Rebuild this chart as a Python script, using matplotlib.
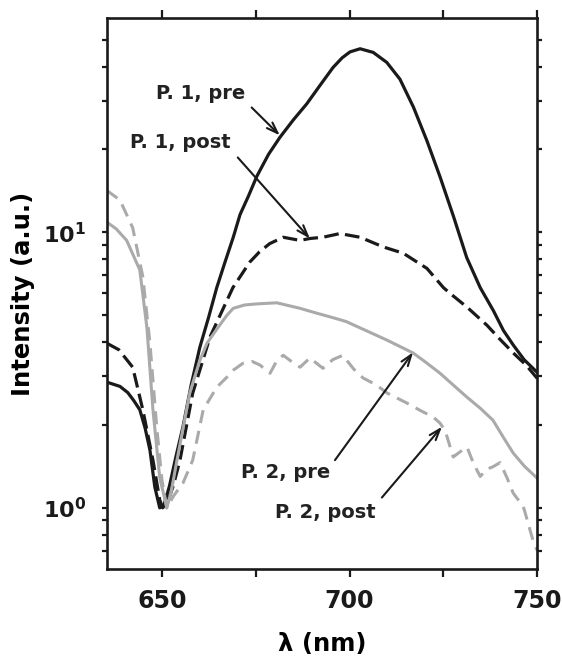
import matplotlib
matplotlib.use("Agg")
import matplotlib.pyplot as plt
from matplotlib.ticker import FixedLocator, NullFormatter, FixedFormatter

plt.rcParams['font.family'] = ['DejaVu Sans']
plt.rcParams['font.weight'] = 'bold'
plt.rcParams['mathtext.fontset'] = 'dejavusans'

# ---- data ----
p1_pre_wl = [635.3, 638.8, 640.9, 642.5, 644.1, 645.5, 646.8, 648.1, 649.4, 650.5, 652.0,
             653.8, 655.6, 657.8, 660.1, 662.4, 664.6, 666.8, 669.0, 670.8, 673.0, 675.3,
             678.4, 681.4, 685.0, 688.6, 692.0, 695.6, 698.0, 700.1, 702.8, 706.3, 709.9,
             713.4, 717.0, 720.6, 724.1, 727.7, 731.2, 734.8, 738.3, 741.0, 743.6, 746.5,
             750.0]
p1_pre_I = [2.86, 2.76, 2.62, 2.45, 2.27, 1.95, 1.62, 1.19, 1.0, 1.02, 1.2,
            1.55, 1.97, 2.8, 3.83, 4.9, 6.3, 7.8, 9.6, 11.6, 13.5, 16.0,
            19.2, 22.1, 25.6, 29.3, 34.0, 39.7, 43.0, 45.2, 46.4, 45.0, 41.4,
            36.0, 28.5, 21.5, 15.9, 11.4, 8.1, 6.3, 5.2, 4.4, 3.9, 3.45,
            3.1]

p1_post_wl = [635.3, 638.5, 642.2, 644.9, 647.6, 649.4, 650.2, 651.5, 653.0, 654.8, 658.2,
              662.8, 668.9, 673.4, 676.0, 678.7, 682.3, 686.8, 689.4, 692.9, 697.4, 702.8,
              709.0, 714.3, 720.6, 725.0, 726.8, 731.3, 736.6, 740.0, 743.6, 747.0, 750.0]
p1_post_I = [3.96, 3.75, 3.24, 2.27, 1.49, 1.07, 1.0, 1.05, 1.2, 1.49, 2.61,
             4.17, 6.3, 7.8, 8.5, 9.1, 9.6, 9.35, 9.5, 9.6, 9.9, 9.6,
             8.85, 8.4, 7.4, 6.3, 6.0, 5.35, 4.6, 4.1, 3.65, 3.3, 2.95]

p2_pre_wl = [635.3, 637.8, 640.6, 644.1, 646.0, 647.6, 649.4, 651.3, 652.5, 654.0, 657.4,
             660.0, 662.0, 664.6, 667.3, 669.0, 672.0, 675.3, 680.6, 686.8, 691.0, 695.6,
             699.0, 702.8, 706.0, 710.0, 716.9, 720.0, 724.1, 727.5, 731.3, 734.8, 738.2,
             741.0, 743.6, 746.5, 750.0]
p2_pre_I = [10.9, 10.3, 9.35, 7.3, 4.5, 2.27, 1.29, 1.0, 1.15, 1.49, 2.61,
            3.4, 3.96, 4.45, 5.0, 5.3, 5.45, 5.5, 5.55, 5.3, 5.1, 4.9,
            4.75, 4.5, 4.3, 4.06, 3.65, 3.4, 3.08, 2.8, 2.52, 2.3, 2.08,
            1.8, 1.58, 1.42, 1.28]

p2_post_wl = [635.3, 638.8, 642.2, 644.9, 646.8, 648.6, 650.0, 651.3, 653.0, 655.6, 658.2,
              661.0, 664.6, 667.3, 669.0, 671.6, 674.0, 676.1, 678.8, 680.5, 682.3, 684.5,
              686.8, 689.4, 692.9, 695.5, 698.2, 701.0, 703.6, 707.0, 710.0, 715.3, 719.0,
              722.2, 724.1, 725.5, 727.6, 729.5, 731.3, 733.0, 734.8, 736.5, 738.2, 740.1,
              742.0, 743.6, 746.3, 749.0, 750.0]
p2_post_I = [14.2, 13.1, 10.4, 6.9, 3.96, 1.97, 1.26, 1.0, 1.1, 1.23, 1.49,
             2.27, 2.74, 2.98, 3.16, 3.35, 3.4, 3.3, 3.08, 3.4, 3.58, 3.4,
             3.24, 3.5, 3.21, 3.45, 3.58, 3.2, 2.96, 2.8, 2.61, 2.4, 2.25,
             2.14, 2.03, 1.9, 1.53, 1.6, 1.66, 1.45, 1.3, 1.38, 1.41, 1.46,
             1.28, 1.13, 1.01, 0.75, 0.70]

labels = ["P. 1, pre", "P. 1, post", "P. 2, pre", "P. 2, post"]
label_xy = [(660.4, 31.9), (654.8, 21.2), (683.0, 1.34), (693.4, 0.96)]
arrow_tail = [(673.9, 28.4), (670.2, 18.7), (696.1, 1.49), (708.6, 1.09)]
arrow_tip = [(681.4, 22.5), (689.4, 9.5), (716.9, 3.67), (724.6, 1.97)]

x_major = [650, 700, 750]
x_minor = [675, 725]
y_major = [1, 10]
y_major_labels = [r'$\mathbf{10^{0}}$', r'$\mathbf{10^{1}}$']
y_minor = [0.7, 0.8, 0.9, 2, 3, 4, 5, 6, 7, 8, 9, 20, 30, 40, 50]

# ---- figure ----
fig = plt.figure(figsize=(5.62, 6.57), dpi=100)
ax = fig.add_axes([0.190, 0.134, 0.766, 0.8386])

black = '#1a1a1a'
grey = '#aaaaaa'

ax.plot(p1_pre_wl, p1_pre_I, color=black, lw=2.3)
ax.plot(p1_post_wl, p1_post_I, color=black, lw=2.3, linestyle=(0, (4.6, 2.0)))
ax.plot(p2_pre_wl, p2_pre_I, color=grey, lw=2.2)
ax.plot(p2_post_wl, p2_post_I, color=grey, lw=2.2, linestyle=(0, (4.3, 2.6)))

ax.set_yscale('log')
ax.set_xlim(635.3, 750)
ax.set_ylim(0.6, 60)

ax.xaxis.set_major_locator(FixedLocator(x_major))
ax.xaxis.set_minor_locator(FixedLocator(x_minor))
ax.xaxis.set_minor_formatter(NullFormatter())
ax.yaxis.set_major_locator(FixedLocator(y_major))
ax.yaxis.set_major_formatter(FixedFormatter(y_major_labels))
ax.yaxis.set_minor_locator(FixedLocator(y_minor))
ax.yaxis.set_minor_formatter(NullFormatter())

for which in ('major', 'minor'):
    ax.tick_params(axis='x', which=which, direction='out', length=5.5, width=1.6,
                   top=True, colors=black, labelsize=17, pad=9)
    ax.tick_params(axis='y', which=which, direction='out', length=3.8, width=1.6,
                   right=True, colors=black, labelsize=16, pad=11)
for lab in ax.get_xticklabels() + ax.get_yticklabels():
    lab.set_fontweight('bold')

for s in ax.spines.values():
    s.set_linewidth(1.9)
    s.set_color(black)

ax.set_xlabel('λ (nm)', fontsize=17.5, fontweight='bold', va='center')
ax.set_ylabel('Intensity (a.u.)', fontsize=17.5, fontweight='bold', va='center')
ax.xaxis.set_label_coords(0.5, -0.136)
ax.yaxis.set_label_coords(-0.195, 0.5)

for lab, lxy, tail, tip in zip(labels, label_xy, arrow_tail, arrow_tip):
    ax.text(lxy[0], lxy[1], lab, fontsize=14, fontweight='bold', color='#222222',
            ha='center', va='center')
    ax.annotate('', xy=tip, xytext=tail,
                arrowprops=dict(arrowstyle='->,head_length=0.8,head_width=0.28',
                                color=black, lw=1.5, shrinkA=0, shrinkB=0))

fig.savefig('out.png', dpi=100)
